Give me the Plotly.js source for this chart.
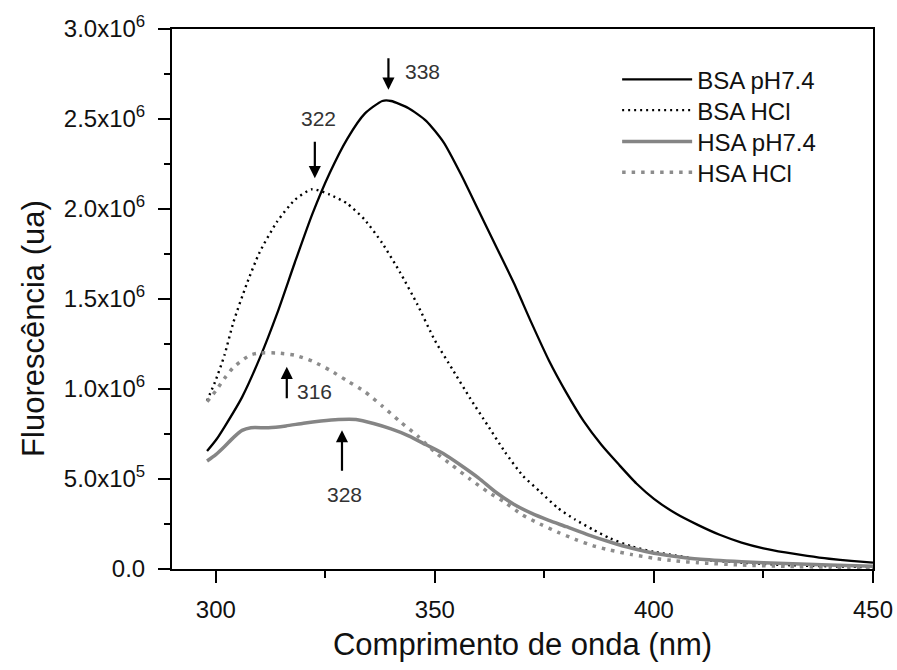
<!DOCTYPE html>
<html>
<head>
<meta charset="utf-8">
<script src="https://cdn.plot.ly/plotly-3.0.1.min.js"></script>
<style>html,body{margin:0;padding:0;background:#fff;}#chart{width:897px;height:670px;}</style>
</head>
<body>
<div id="chart"></div>
<script>
// ---- data ----
const seriesNames = ["BSA pH7.4", "BSA HCl", "HSA pH7.4", "HSA HCl"];

const bsaPhX = [298,300,302,306,310,314,318,322,326,330,334,338,340,344,348,352,356,360,364,368,372,376,380,384,388,392,396,400,405,410,415,420,425,430,435,440,445,450];
const bsaPhY = [655000,715000,790000,955000,1170000,1420000,1700000,1970000,2200000,2390000,2530000,2600000,2600000,2560000,2490000,2370000,2190000,1990000,1790000,1590000,1370000,1160000,980000,820000,690000,580000,475000,390000,308000,245000,190000,147000,115000,92000,73000,57000,45000,35000];

const bsaHclX = [298,300,302,304,307,310,314,318,322,326,330,334,338,342,346,350,354,358,362,366,370,374,378,382,386,390,395,400,405,410,420,430,440,450];
const bsaHclY = [935000,1050000,1190000,1370000,1580000,1760000,1930000,2050000,2110000,2080000,2030000,1940000,1810000,1650000,1470000,1270000,1110000,950000,800000,650000,520000,430000,340000,275000,220000,170000,125000,95000,75000,55000,35000,22000,15000,10000];

const hsaPhX = [298,300,302,304,306,308,312,316,320,324,328,332,336,340,344,348,352,356,360,364,368,372,376,380,385,390,395,400,405,410,420,430,440,450];
const hsaPhY = [600000,635000,680000,730000,770000,785000,785000,795000,810000,822000,830000,830000,808000,778000,740000,690000,640000,575000,505000,425000,360000,310000,270000,235000,190000,150000,115000,88000,70000,55000,40000,30000,22000,15000];

const hsaHclX = [298,300,302,304,306,308,310,314,318,322,326,330,334,338,342,346,350,354,358,362,366,370,374,378,382,386,390,395,400,405,410,420,430,440,450];
const hsaHclY = [930000,990000,1060000,1120000,1160000,1190000,1200000,1200000,1188000,1155000,1105000,1045000,985000,905000,820000,740000,650000,575000,500000,430000,370000,300000,250000,205000,165000,130000,105000,80000,60000,45000,35000,22000,15000,10000,8000];

const peakLabels = ["338", "322", "316", "328"];
const peakX = [339.4, 322.6, 316.2, 328.8];
const peakY = [2663000, 2171000, 1123000, 771000];

const xTickVals = [300, 350, 400, 450];
const yTickVals = [0, 500000, 1000000, 1500000, 2000000, 2500000, 3000000];
const yTickText = ["0.0", "5.0x10<sup>5</sup>", "1.0x10<sup>6</sup>", "1.5x10<sup>6</sup>", "2.0x10<sup>6</sup>", "2.5x10<sup>6</sup>", "3.0x10<sup>6</sup>"];

const xTitle = "Comprimento de onda (nm)";
const yTitle = "Fluorescência (ua)";

// ---- styles ----
const FONT = "Arial, 'Liberation Sans', sans-serif";
const legendIds = ["legend", "legend2", "legend3", "legend4"];
const legendRowY = [0.906, 0.849, 0.791, 0.734];
const lineStyles = [
  {color: "#000", width: 2.3},
  {color: "#000", width: 2.4, dash: "2px,4px"},
  {color: "#858585", width: 3.5},
  {color: "#8c8c8c", width: 3.5, dash: "3.5px,6px"}
];
const xs = [bsaPhX, bsaHclX, hsaPhX, hsaHclX];
const ys = [bsaPhY, bsaHclY, hsaPhY, hsaHclY];

const traces = [];
for (let i = 0; i < seriesNames.length; i++) {
  traces.push({
    x: xs[i], y: ys[i], name: seriesNames[i], mode: "lines",
    legend: legendIds[i],
    line: Object.assign({shape: "spline", smoothing: 0.6}, lineStyles[i])
  });
}

// ---- annotations: arrows at peaks + labels ----
const arrowOffsets = [-33, -38, 33, 42];
const labelPos = [[347.1, 2763000], [323.4, 2501000], [322.5, 984000], [329.3, 415000]];
const annotations = [];
for (let i = 0; i < peakLabels.length; i++) {
  annotations.push({
    x: peakX[i], y: peakY[i], xref: "x", yref: "y",
    ax: 0, ay: arrowOffsets[i], showarrow: true,
    arrowhead: 2, arrowsize: 1.1, arrowwidth: 2.2, arrowcolor: "#000",
    text: "", standoff: 0
  });
  annotations.push({
    x: labelPos[i][0], y: labelPos[i][1], xref: "x", yref: "y",
    text: peakLabels[i], showarrow: false,
    font: {family: FONT, size: 21, color: "#333"}
  });
}
// y-axis title (placed slightly below the axis centre as in the reference)
annotations.push({
  xref: "paper", yref: "paper", x: -0.198, y: 0.445,
  xanchor: "center", yanchor: "middle", textangle: -90,
  text: yTitle, showarrow: false,
  font: {family: FONT, size: 31, color: "#111"}
});

const layout = {
  width: 897, height: 670,
  margin: {l: 172, r: 24, t: 29, b: 101},
  paper_bgcolor: "#fff", plot_bgcolor: "#fff",
  font: {family: FONT, color: "#111"},
  showlegend: true,
  xaxis: {
    range: [290, 450],
    tickmode: "array", tickvals: xTickVals,
    ticks: "outside", ticklen: 12, tickwidth: 2, tickcolor: "#000",
    minor: {dtick: 25, tick0: 300, ticks: "outside", ticklen: 7, tickwidth: 2, tickcolor: "#000"},
    showline: true, linecolor: "#000", linewidth: 2, mirror: true,
    showgrid: false, zeroline: false,
    tickfont: {family: FONT, size: 24, color: "#111"},
    ticklabelstandoff: 6,
    title: {text: xTitle, font: {family: FONT, size: 31, color: "#111"}, standoff: 12}
  },
  yaxis: {
    range: [0, 3000000],
    tickmode: "array", tickvals: yTickVals, ticktext: yTickText,
    ticks: "outside", ticklen: 12, tickwidth: 2, tickcolor: "#000",
    minor: {dtick: 250000, tick0: 0, ticks: "outside", ticklen: 6, tickwidth: 2, tickcolor: "#000"},
    showline: true, linecolor: "#000", linewidth: 2, mirror: true,
    showgrid: false, zeroline: false,
    tickfont: {family: FONT, size: 24, color: "#111"},
    ticklabelstandoff: 8
  },
  annotations: annotations
};
for (let i = 0; i < legendIds.length; i++) {
  layout[legendIds[i]] = {
    x: 0.635, y: legendRowY[i], xanchor: "left", yanchor: "middle",
    bgcolor: "rgba(0,0,0,0)", borderwidth: 0,
    font: {family: FONT, size: 24, color: "#111"},
    itemwidth: 70
  };
}

Plotly.newPlot("chart", traces, layout, {staticPlot: true, displayModeBar: false});
</script>
</body>
</html>
